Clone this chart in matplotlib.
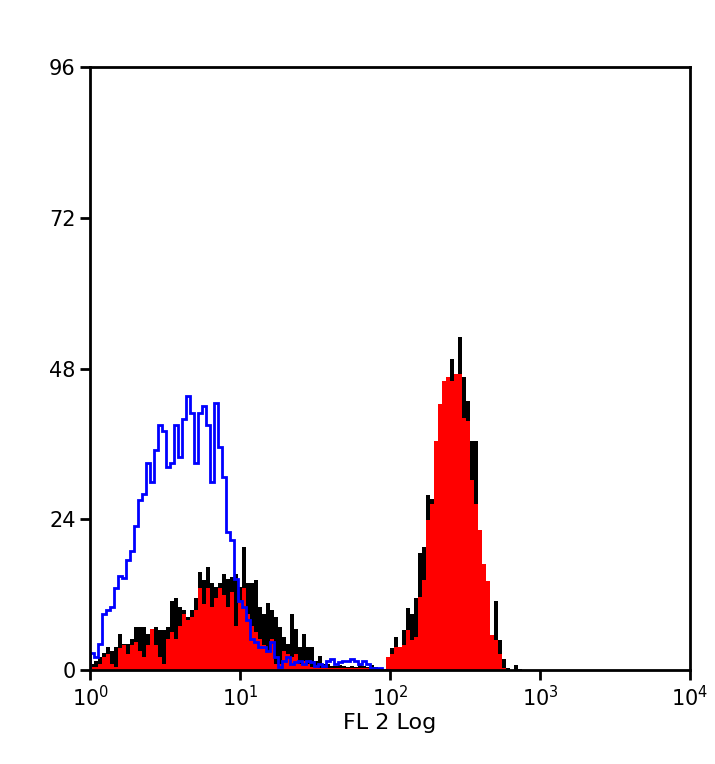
import matplotlib
matplotlib.use('Agg')
import matplotlib.pyplot as plt
import numpy as np

# bin width in decades (histogram channels)
bw = 0.02667

# low region, starting at 10^0
blue_low = [2.7, 2.1, 4.2, 9, 9.5, 10, 13, 15, 14.6, 17.5, 19, 23, 27, 28, 33, 30, 35, 39, 38, 32.3,
            33, 39, 34, 40, 43.7, 41, 33, 41, 42, 39, 30, 42.6, 35.5, 30.7, 22, 20.7, 14.5, 11, 10, 8,
            4.9, 4.4, 3.7, 3.7, 3, 4.4, 2, 0.5, 1.5, 2, 1, 1.2, 1.5, 1, 1.5, 1.2, 0.6, 1, 0.6, 1.5,
            1.8, 1, 1.2, 1.5, 1.5, 1.8, 1.5, 1, 1.5, 1, 0.4, 0.3, 0.3, 0, 0]
black_low = [1, 1.5, 2, 2.7, 3.7, 3, 3.7, 5.8, 4.2, 4.2, 5, 6.8, 6.8, 6.8, 5.8, 6.6, 6.8, 6.3, 6.3, 6.8,
             11, 11.5, 10, 9.5, 8.5, 9.5, 11.5, 15.6, 14.3, 16.4, 13.8, 13.3, 13.8, 15.3, 14.5, 14.8, 15.3, 13.3, 19.6, 13.8,
             13.8, 14.3, 10, 9, 10.6, 9.5, 8.5, 6.8, 5.3, 4.2, 9, 6.6, 3.7, 5.8, 3.7, 3.7, 1.5, 2.3, 1, 1,
             0.6, 0.6, 0.8, 0.6, 0.5, 0.6, 0.5, 0.8, 0.6, 0.5, 0.8, 0.5, 0.3, 0.2, 0.2]
red_low = [0.5, 0.5, 1, 2, 2.5, 1, 0.5, 3.5, 4, 2.5, 4, 4.5, 3, 2, 4, 6.5, 4, 2, 1, 5,
           6, 5, 7, 9, 8, 8.5, 9.5, 13, 10.5, 13, 10, 11.5, 13, 12, 10, 12.5, 7, 11, 13, 9,
           7, 6, 5, 4, 3, 5, 1, 1, 3, 2.5, 2, 2.5, 1, 1.5, 1, 0.5, 0.5, 0.3, 0.3, 0.3,
           0.3, 0.3, 0.3, 0.3, 0.3, 0.3, 0.3, 0.3, 0.3, 0.3, 0.3, 0, 0, 0, 0]

# high region, starting near 10^1.97
hi_start = 1.973
black_hi = [1, 3.5, 5.3, 3.7, 6.4, 9.8, 9, 11.4, 18.6, 19.6, 27.8, 27.2, 36.5, 40.8, 43.4, 46.6, 49.5, 47.2,
            53, 46.6, 42.9, 36.5, 36.5, 22, 16.6, 14.2, 5.5, 11, 4.8, 1.8, 0.3, 0, 0.8, 0.1]
red_hi = [2, 2.6, 3.7, 3.7, 4, 6.4, 4.8, 5.3, 11.7, 14.3, 23.9, 26.5, 36.5, 42.3, 46, 46.6, 46, 47.2,
          47.2, 40.2, 39.7, 30.2, 26.5, 22.3, 16.9, 14.2, 5.5, 4.8, 2.6, 0.3]


def edges(start, n):
    return 10 ** (start + bw * np.arange(n + 1))


fig = plt.figure(figsize=(7.15, 7.64), dpi=100)
ax = fig.add_axes([0.126, 0.123, 0.839, 0.789])

ax.stairs(black_low, edges(0, len(black_low)), fill=True, color='black')
ax.stairs(black_hi, edges(hi_start, len(black_hi)), fill=True, color='black')
ax.stairs(red_low, edges(0, len(red_low)), fill=True, color='#ff0000')
ax.stairs(red_hi, edges(hi_start, len(red_hi)), fill=True, color='#ff0000')
ax.stairs(blue_low, edges(0, len(blue_low)), color='#0000ff', linewidth=2)

ax.set_xscale('log')
ax.set_xlim(1, 1e4)
ax.set_ylim(0, 96)
ax.set_yticks([0, 24, 48, 72, 96])
ax.set_xticks([1, 10, 100, 1000, 10000])
ax.set_xticklabels(['$10^0$', '$10^1$', '$10^2$', '$10^3$', '$10^4$'])
ax.minorticks_off()
ax.tick_params(width=2, length=7, labelsize=15, direction='out')
for s in ax.spines.values():
    s.set_linewidth(2)
ax.set_xlabel('FL 2 Log', fontsize=16, labelpad=2)

fig.savefig('out.png')
